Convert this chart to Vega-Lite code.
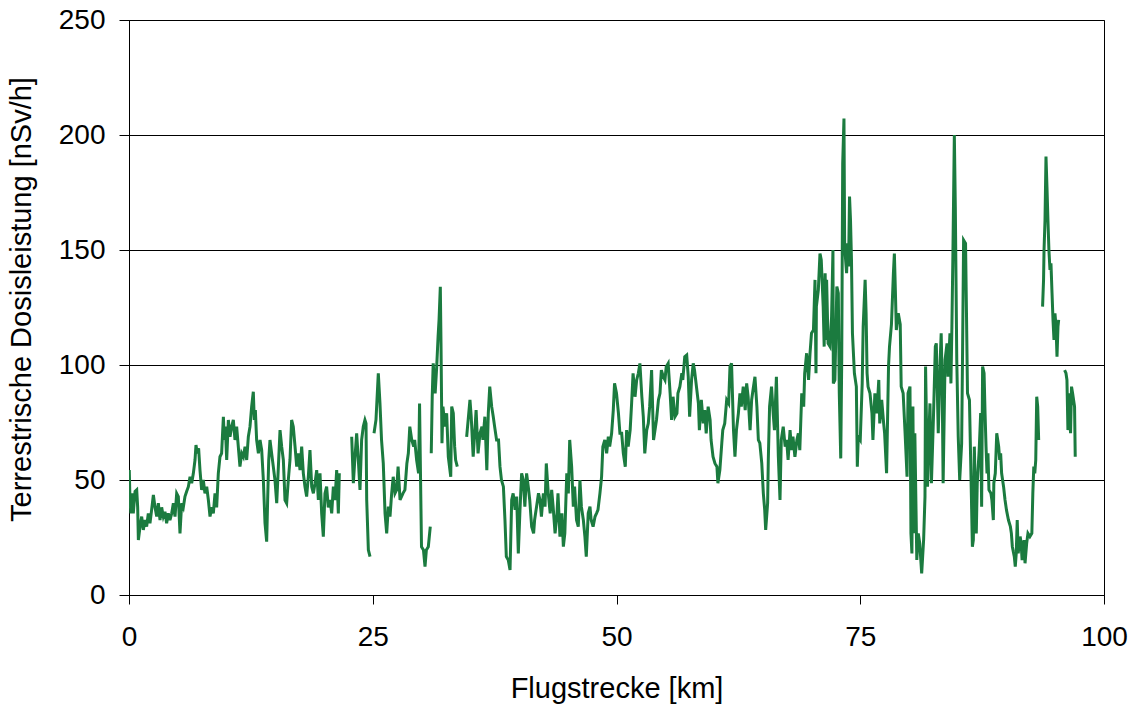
{
  "$schema": "https://vega.github.io/schema/vega-lite/v6.json",
  "width": 975,
  "height": 575,
  "autosize": {"type": "none"},
  "padding": {"left": 129, "top": 20, "right": 33, "bottom": 111},
  "background": "white",
  "config": {"view": {"stroke": "#000", "strokeWidth": 1}, "font": "Liberation Sans"},
  "data": {"values": [
    {"km":0.03,"dose":54.3},{"km":0.1,"dose":41.3},{"km":0.2,"dose":35.5},{"km":0.32,"dose":44.2},{"km":0.44,"dose":35.5},{"km":0.62,"dose":45},{"km":0.79,"dose":45.7},{"km":0.89,"dose":38.1},{"km":0.96,"dose":23.9},{"km":1.13,"dose":29.7},{"km":1.3,"dose":34.1},{"km":1.47,"dose":28.3},{"km":1.64,"dose":32.6},{"km":1.81,"dose":29.7},{"km":1.98,"dose":35.5},{"km":2.15,"dose":31.2},{"km":2.32,"dose":37},{"km":2.5,"dose":43.5},{"km":2.67,"dose":38.1},{"km":2.84,"dose":34.1},{"km":3.01,"dose":39.9},{"km":3.18,"dose":32.6},{"km":3.35,"dose":38.1},{"km":3.52,"dose":34.1},{"km":3.69,"dose":36.2},{"km":3.86,"dose":31.2},{"km":4.03,"dose":35.5},{"km":4.2,"dose":32.6},{"km":4.38,"dose":35.5},{"km":4.55,"dose":39.9},{"km":4.72,"dose":34.1},{"km":4.89,"dose":44.2},{"km":5.06,"dose":42.8},{"km":5.23,"dose":26.8},{"km":5.4,"dose":39.9},{"km":5.57,"dose":38.1},{"km":5.74,"dose":42.8},{"km":5.91,"dose":45},{"km":6.09,"dose":47.1},{"km":6.26,"dose":51.4},{"km":6.43,"dose":48.6},{"km":6.6,"dose":52.9},{"km":6.77,"dose":58.7},{"km":6.87,"dose":65.2},{"km":7.0,"dose":61.6},{"km":7.14,"dose":63.8},{"km":7.28,"dose":54.3},{"km":7.45,"dose":45.7},{"km":7.62,"dose":50},{"km":7.79,"dose":44.2},{"km":7.97,"dose":47.1},{"km":8.14,"dose":41.3},{"km":8.31,"dose":34.1},{"km":8.48,"dose":38.1},{"km":8.65,"dose":35.5},{"km":8.82,"dose":44.2},{"km":8.99,"dose":38.1},{"km":9.16,"dose":52.9},{"km":9.33,"dose":60.1},{"km":9.5,"dose":61.6},{"km":9.68,"dose":77.5},{"km":9.78,"dose":67.4},{"km":9.88,"dose":73.2},{"km":10.02,"dose":58.7},{"km":10.19,"dose":76.1},{"km":10.36,"dose":68.8},{"km":10.53,"dose":73.2},{"km":10.7,"dose":76.1},{"km":10.87,"dose":67.4},{"km":11.04,"dose":73.2},{"km":11.21,"dose":64.5},{"km":11.38,"dose":55.8},{"km":11.56,"dose":61.6},{"km":11.73,"dose":60.1},{"km":11.9,"dose":64.5},{"km":12.07,"dose":58.7},{"km":12.24,"dose":68.8},{"km":12.41,"dose":73.2},{"km":12.58,"dose":81.9},{"km":12.75,"dose":88.4},{"km":12.85,"dose":76.1},{"km":12.96,"dose":80.4},{"km":13.09,"dose":67.4},{"km":13.27,"dose":61.6},{"km":13.44,"dose":67.4},{"km":13.61,"dose":63},{"km":13.78,"dose":50},{"km":13.95,"dose":31.2},{"km":14.12,"dose":23.2},{"km":14.22,"dose":41.3},{"km":14.33,"dose":58.7},{"km":14.46,"dose":67.4},{"km":14.63,"dose":61.6},{"km":14.8,"dose":55.8},{"km":14.97,"dose":50},{"km":15.15,"dose":39.9},{"km":15.32,"dose":55.8},{"km":15.49,"dose":71.7},{"km":15.66,"dose":64.5},{"km":15.83,"dose":58.7},{"km":16.0,"dose":41.3},{"km":16.17,"dose":39.9},{"km":16.34,"dose":50},{"km":16.51,"dose":58.7},{"km":16.68,"dose":76.1},{"km":16.85,"dose":73.2},{"km":17.03,"dose":64.5},{"km":17.2,"dose":55.8},{"km":17.37,"dose":61.6},{"km":17.54,"dose":54.3},{"km":17.71,"dose":64.5},{"km":17.88,"dose":52.9},{"km":18.05,"dose":47.1},{"km":18.22,"dose":42.8},{"km":18.39,"dose":51.4},{"km":18.56,"dose":63},{"km":18.74,"dose":47.1},{"km":18.91,"dose":44.2},{"km":19.08,"dose":48.6},{"km":19.25,"dose":54.3},{"km":19.42,"dose":41.3},{"km":19.59,"dose":52.9},{"km":19.76,"dose":35.5},{"km":19.93,"dose":25.4},{"km":20.1,"dose":44.2},{"km":20.27,"dose":47.1},{"km":20.44,"dose":38.1},{"km":20.62,"dose":41.3},{"km":20.79,"dose":35.5},{"km":20.96,"dose":47.1},{"km":21.13,"dose":41.3},{"km":21.3,"dose":54.3},{"km":21.47,"dose":35.5},{"km":21.57,"dose":52.9},
    {"km":22.2,"dose":null},
    {"km":22.84,"dose":68.8},{"km":23.01,"dose":48.6},{"km":23.18,"dose":60.1},{"km":23.35,"dose":70.3},{"km":23.52,"dose":58.7},{"km":23.69,"dose":45.7},{"km":23.86,"dose":67.4},{"km":24.03,"dose":73.2},{"km":24.2,"dose":76.1},{"km":24.31,"dose":74.6},{"km":24.38,"dose":41.3},{"km":24.55,"dose":19.6},{"km":24.72,"dose":16.7},
    {"km":24.9,"dose":null},
    {"km":25.13,"dose":70.3},{"km":25.33,"dose":76.1},{"km":25.57,"dose":96.4},{"km":25.74,"dose":83.3},{"km":25.9,"dose":67.4},{"km":26.08,"dose":57.2},{"km":26.26,"dose":35.5},{"km":26.43,"dose":26.8},{"km":26.6,"dose":38.4},{"km":26.77,"dose":34.1},{"km":26.94,"dose":44.2},{"km":27.1,"dose":51.4},{"km":27.28,"dose":44.2},{"km":27.45,"dose":45.7},{"km":27.6,"dose":55.8},{"km":27.8,"dose":41.3},{"km":28.1,"dose":44.2},{"km":28.3,"dose":45.7},{"km":28.5,"dose":57.2},{"km":28.65,"dose":61.6},{"km":28.8,"dose":73.2},{"km":29.0,"dose":67.4},{"km":29.2,"dose":64.5},{"km":29.3,"dose":67.4},{"km":29.5,"dose":58.7},{"km":29.7,"dose":52.9},{"km":29.8,"dose":83.3},{"km":29.9,"dose":51.4},{"km":30.0,"dose":21},{"km":30.2,"dose":19.6},{"km":30.36,"dose":12.3},{"km":30.5,"dose":19.6},{"km":30.7,"dose":21},{"km":30.9,"dose":29.7},
    {"km":30.95,"dose":null},
    {"km":31.0,"dose":61.6},{"km":31.1,"dose":86.2},{"km":31.2,"dose":100.7},{"km":31.4,"dose":87.7},{"km":31.56,"dose":99.3},{"km":31.7,"dose":112.3},{"km":31.8,"dose":119.6},{"km":31.93,"dose":134},{"km":32.0,"dose":109.4},{"km":32.1,"dose":66},{"km":32.2,"dose":81.9},{"km":32.4,"dose":73.2},{"km":32.58,"dose":79},{"km":32.75,"dose":60.1},{"km":33.0,"dose":51.4},{"km":33.1,"dose":81.9},{"km":33.26,"dose":79},{"km":33.4,"dose":64.5},{"km":33.5,"dose":58.7},{"km":33.67,"dose":55.8},
    {"km":34.2,"dose":null},
    {"km":34.63,"dose":68.8},{"km":34.97,"dose":84.8},{"km":35.1,"dose":77.5},{"km":35.3,"dose":60.1},{"km":35.5,"dose":73.2},{"km":35.6,"dose":80.4},{"km":35.8,"dose":61.6},{"km":36.0,"dose":70.3},{"km":36.2,"dose":73.2},{"km":36.3,"dose":67.4},{"km":36.5,"dose":77.5},{"km":36.7,"dose":54.3},{"km":36.85,"dose":79},{"km":37.0,"dose":90.6},{"km":37.2,"dose":81.9},{"km":37.36,"dose":77.5},{"km":37.5,"dose":73.2},{"km":37.7,"dose":67.4},{"km":37.9,"dose":67.4},{"km":38.05,"dose":55.8},{"km":38.2,"dose":50},{"km":38.4,"dose":47.1},{"km":38.56,"dose":32.6},{"km":38.7,"dose":16.7},{"km":38.9,"dose":15.2},{"km":39.08,"dose":10.9},{"km":39.25,"dose":41.3},{"km":39.4,"dose":44.2},{"km":39.6,"dose":37},{"km":39.76,"dose":42.8},{"km":39.93,"dose":18.1},{"km":40.1,"dose":37},{"km":40.27,"dose":52.9},{"km":40.44,"dose":50},{"km":40.6,"dose":38.4},{"km":40.78,"dose":52.9},{"km":40.95,"dose":47.1},{"km":41.1,"dose":41.3},{"km":41.3,"dose":29.7},{"km":41.5,"dose":26.8},{"km":41.6,"dose":32.6},{"km":41.8,"dose":38.4},{"km":42.0,"dose":44.2},{"km":42.15,"dose":41.3},{"km":42.3,"dose":34.1},{"km":42.5,"dose":44.2},{"km":42.67,"dose":38.4},{"km":42.8,"dose":57.2},{"km":43.0,"dose":44.2},{"km":43.2,"dose":35.5},{"km":43.35,"dose":45.7},{"km":43.5,"dose":38.4},{"km":43.7,"dose":26.8},{"km":43.9,"dose":35.5},{"km":44.0,"dose":44.2},{"km":44.2,"dose":25.4},{"km":44.4,"dose":35.5},{"km":44.55,"dose":21},{"km":44.7,"dose":26.8},{"km":44.9,"dose":52.9},{"km":45.06,"dose":44.2},{"km":45.2,"dose":67.4},{"km":45.4,"dose":55.8},{"km":45.57,"dose":38.4},{"km":45.7,"dose":47.1},{"km":45.9,"dose":32.6},{"km":46.08,"dose":29.7},{"km":46.25,"dose":50},{"km":46.4,"dose":38.4},{"km":46.6,"dose":32.6},{"km":46.76,"dose":25.4},{"km":46.9,"dose":16.7},{"km":47.1,"dose":35.5},{"km":47.28,"dose":38.4},{"km":47.4,"dose":32.6},{"km":47.6,"dose":29.7},{"km":47.8,"dose":34.1},{"km":47.95,"dose":35.5},{"km":48.1,"dose":37},{"km":48.3,"dose":44.2},{"km":48.47,"dose":51.4},{"km":48.6,"dose":64.5},{"km":48.8,"dose":67.4},{"km":48.99,"dose":61.6},{"km":49.16,"dose":68.8},{"km":49.3,"dose":64.5},{"km":49.5,"dose":70.3},{"km":49.67,"dose":80.4},{"km":49.8,"dose":92},{"km":50.0,"dose":87.7},{"km":50.2,"dose":79},{"km":50.35,"dose":70.3},
    {"km":50.53,"dose":70.3},{"km":50.7,"dose":61.6},{"km":50.9,"dose":55.8},{"km":51.04,"dose":71.7},{"km":51.2,"dose":64.5},{"km":51.4,"dose":71.7},{"km":51.55,"dose":83.3},{"km":51.7,"dose":96.4},{"km":51.9,"dose":86.2},{"km":52.07,"dose":93.5},{"km":52.24,"dose":96.4},{"km":52.4,"dose":100.7},{"km":52.6,"dose":86.2},{"km":52.75,"dose":77.5},{"km":52.9,"dose":61.6},{"km":53.1,"dose":71.7},{"km":53.26,"dose":74.6},{"km":53.4,"dose":81.9},{"km":53.6,"dose":97.8},{"km":53.8,"dose":67.4},{"km":53.95,"dose":71.7},{"km":54.1,"dose":76.1},{"km":54.3,"dose":84.8},{"km":54.46,"dose":87.7},{"km":54.6,"dose":97.8},{"km":54.8,"dose":94.9},{"km":54.97,"dose":93.5},{"km":55.1,"dose":99.3},{"km":55.3,"dose":100.7},{"km":55.5,"dose":87.7},{"km":55.65,"dose":76.1},{"km":55.8,"dose":86.2},{"km":56.0,"dose":77.5},{"km":56.2,"dose":79},{"km":56.3,"dose":87.7},{"km":56.5,"dose":90.6},{"km":56.7,"dose":96.4},{"km":56.8,"dose":93.5},{"km":57.0,"dose":103.6},{"km":57.2,"dose":104.3},{"km":57.36,"dose":94.9},{"km":57.5,"dose":77.5},{"km":57.7,"dose":93.5},{"km":57.87,"dose":100.7},{"km":58.0,"dose":97.8},{"km":58.2,"dose":90.6},{"km":58.4,"dose":83.3},{"km":58.5,"dose":71.7},{"km":58.7,"dose":84.8},{"km":58.9,"dose":74.6},{"km":59.05,"dose":80.4},{"km":59.2,"dose":70.3},{"km":59.4,"dose":81.9},{"km":59.6,"dose":76.1},{"km":59.7,"dose":67.4},{"km":59.9,"dose":60.1},{"km":60.1,"dose":57.2},{"km":60.3,"dose":55.8},{"km":60.4,"dose":48.6},{"km":60.6,"dose":54.3},{"km":60.8,"dose":66},{"km":60.9,"dose":71.7},{"km":61.1,"dose":74.6},{"km":61.3,"dose":84.8},{"km":61.5,"dose":83.3},{"km":61.64,"dose":99.3},{"km":61.8,"dose":100.7},{"km":62.0,"dose":71.7},{"km":62.15,"dose":60.1},{"km":62.3,"dose":71.7},{"km":62.5,"dose":79},{"km":62.66,"dose":87.7},{"km":62.8,"dose":81.9},{"km":63.0,"dose":90.6},{"km":63.2,"dose":80.4},{"km":63.35,"dose":92},{"km":63.5,"dose":86.2},{"km":63.7,"dose":71.7},{"km":63.86,"dose":84.8},{"km":64.0,"dose":89.1},{"km":64.2,"dose":94.9},{"km":64.4,"dose":81.9},{"km":64.55,"dose":67.4},{"km":64.7,"dose":66},{"km":64.9,"dose":57.2},{"km":65.06,"dose":44.2},{"km":65.2,"dose":37},{"km":65.3,"dose":28.3},{"km":65.5,"dose":39.9},{"km":65.57,"dose":58.7},{"km":65.7,"dose":81.9},{"km":65.9,"dose":90.6},{"km":66.07,"dose":79},{"km":66.2,"dose":71.7},{"km":66.4,"dose":94.9},{"km":66.6,"dose":60.1},{"km":66.77,"dose":41.3},{"km":66.9,"dose":67.4},{"km":67.1,"dose":73.2},{"km":67.3,"dose":64.5},{"km":67.45,"dose":67.4},{"km":67.6,"dose":58.7},{"km":67.8,"dose":71.7},{"km":67.96,"dose":63},{"km":68.1,"dose":68.8},{"km":68.3,"dose":60.1},{"km":68.5,"dose":67.4},{"km":68.65,"dose":70.3},{"km":68.8,"dose":63},
    {"km":69.0,"dose":87.7},{"km":69.2,"dose":81.9},{"km":69.3,"dose":96.4},{"km":69.5,"dose":105.1},{"km":69.7,"dose":93.5},{"km":69.85,"dose":105.1},{"km":70.0,"dose":113.8},{"km":70.2,"dose":115.2},{"km":70.36,"dose":137},{"km":70.46,"dose":96.4},{"km":70.5,"dose":125.4},{"km":70.7,"dose":132.6},{"km":70.87,"dose":148.5},{"km":71.0,"dose":145.7},{"km":71.2,"dose":125.4},{"km":71.3,"dose":108},{"km":71.4,"dose":139.9},{"km":71.5,"dose":110.9},{"km":71.55,"dose":137},{"km":71.7,"dose":109.4},{"km":71.9,"dose":108},{"km":72.06,"dose":121},{"km":72.2,"dose":150},{"km":72.24,"dose":92},{"km":72.4,"dose":93.5},{"km":72.6,"dose":134.1},{"km":72.75,"dose":131.2},{"km":72.85,"dose":87.7},{"km":73.0,"dose":59.4},{"km":73.1,"dose":102.2},{"km":73.2,"dose":187.7},{"km":73.33,"dose":207.2},{"km":73.4,"dose":151.4},{"km":73.6,"dose":139.9},{"km":73.7,"dose":152.9},{"km":73.8,"dose":142.8},{"km":73.9,"dose":173.2},{"km":74.0,"dose":163},{"km":74.1,"dose":145.7},{"km":74.2,"dose":113.8},{"km":74.4,"dose":96.4},{"km":74.6,"dose":90.6},{"km":74.7,"dose":55.8},{"km":74.8,"dose":68.8},{"km":75.0,"dose":67.4},{"km":75.2,"dose":92},{"km":75.3,"dose":116.7},{"km":75.5,"dose":137},{"km":75.6,"dose":122.5},{"km":75.7,"dose":96.4},{"km":75.8,"dose":90.6},{"km":76.0,"dose":87.7},{"km":76.2,"dose":79},{"km":76.3,"dose":67.4},{"km":76.5,"dose":87.7},{"km":76.7,"dose":79},{"km":76.9,"dose":93.5},{"km":77.0,"dose":74.6},{"km":77.2,"dose":84.8},{"km":77.4,"dose":74.6},{"km":77.5,"dose":70.3},{"km":77.7,"dose":53},{"km":77.9,"dose":99.3},{"km":78.0,"dose":108},{"km":78.2,"dose":117.7},{"km":78.4,"dose":139.9},{"km":78.5,"dose":148.5},{"km":78.6,"dose":132.6},{"km":78.7,"dose":115.2},{"km":78.9,"dose":122.5},{"km":79.1,"dose":117.7},{"km":79.2,"dose":90.6},{"km":79.4,"dose":87.7},{"km":79.6,"dose":70.3},{"km":79.8,"dose":51.4},{"km":79.9,"dose":87.7},{"km":80.1,"dose":90.6},{"km":80.2,"dose":26.8},{"km":80.3,"dose":18.1},{"km":80.4,"dose":81.9},{"km":80.5,"dose":26.8},{"km":80.6,"dose":70.3},{"km":80.8,"dose":15.2},{"km":80.95,"dose":26.8},{"km":81.1,"dose":22.5},{"km":81.3,"dose":9.4},{"km":81.5,"dose":24},{"km":81.64,"dose":42.8},{"km":81.7,"dose":99.3},{"km":81.9,"dose":47.1},{"km":82.0,"dose":64.5},{"km":82.15,"dose":83.3},{"km":82.3,"dose":48.6},{"km":82.5,"dose":76.1},{"km":82.7,"dose":108},{"km":82.8,"dose":109.4},{"km":83.0,"dose":70.3},{"km":83.2,"dose":102.2},{"km":83.3,"dose":113.8},{"km":83.4,"dose":93.5},{"km":83.5,"dose":48.6},{"km":83.7,"dose":102.2},{"km":83.9,"dose":109.4},{"km":84.0,"dose":94.9},{"km":84.2,"dose":113.8},{"km":84.3,"dose":92},{"km":84.4,"dose":116.7},{"km":84.5,"dose":147.1},{"km":84.65,"dose":200},{"km":84.75,"dose":168.8},{"km":84.9,"dose":102.2},{"km":85.05,"dose":68.8},{"km":85.2,"dose":50},{"km":85.4,"dose":65.9},{"km":85.5,"dose":108},{"km":85.6,"dose":154.3},{"km":85.8,"dose":152.9},{"km":85.9,"dose":121},{"km":86.0,"dose":87.7},{"km":86.2,"dose":84.8},{"km":86.4,"dose":42.8},{"km":86.5,"dose":21},{"km":86.6,"dose":24},{"km":86.7,"dose":64.5},{"km":86.9,"dose":26.8},{"km":87.0,"dose":48.6},{"km":87.2,"dose":63},
    {"km":87.35,"dose":79.1},{"km":87.45,"dose":38.4},{"km":87.55,"dose":99.3},{"km":87.7,"dose":96.4},{"km":87.8,"dose":79.1},{"km":87.9,"dose":64.6},{"km":88.0,"dose":52.9},{"km":88.1,"dose":61.6},{"km":88.2,"dose":45.7},{"km":88.4,"dose":44.2},{"km":88.5,"dose":41.3},{"km":88.65,"dose":32.6},{"km":88.7,"dose":48.6},{"km":88.85,"dose":52.9},{"km":89.0,"dose":70.3},{"km":89.2,"dose":64.5},{"km":89.3,"dose":58.7},{"km":89.4,"dose":61.6},{"km":89.5,"dose":52.9},{"km":89.7,"dose":47.1},{"km":89.85,"dose":41.3},{"km":90.0,"dose":36.9},{"km":90.2,"dose":32.6},{"km":90.4,"dose":29.7},{"km":90.5,"dose":26.8},{"km":90.6,"dose":21},{"km":90.8,"dose":16.7},{"km":90.9,"dose":12.3},{"km":91.0,"dose":18.1},{"km":91.1,"dose":32.6},{"km":91.2,"dose":18.1},{"km":91.4,"dose":25.4},{"km":91.5,"dose":22.5},{"km":91.6,"dose":15.2},{"km":91.8,"dose":23.9},{"km":91.9,"dose":13.8},{"km":92.07,"dose":22.5},{"km":92.2,"dose":26.8},{"km":92.4,"dose":25.4},{"km":92.6,"dose":26.8},{"km":92.7,"dose":44.2},{"km":92.8,"dose":55.8},{"km":92.9,"dose":52.9},{"km":93.0,"dose":58.7},{"km":93.1,"dose":86.2},{"km":93.2,"dose":81.9},{"km":93.3,"dose":67.4},
    {"km":93.5,"dose":null},
    {"km":93.7,"dose":125.4},{"km":93.8,"dose":137},{"km":93.85,"dose":150},{"km":93.95,"dose":163},{"km":94.05,"dose":190.6},{"km":94.15,"dose":177.5},{"km":94.25,"dose":163},{"km":94.35,"dose":150},{"km":94.46,"dose":141.3},{"km":94.56,"dose":144.2},{"km":94.67,"dose":131.2},{"km":94.77,"dose":119.6},{"km":94.87,"dose":110.9},{"km":94.97,"dose":122.5},{"km":95.08,"dose":116.7},{"km":95.18,"dose":103.6},{"km":95.28,"dose":116.7},{"km":95.35,"dose":119.6},
    {"km":95.6,"dose":null},
    {"km":95.96,"dose":97.8},{"km":96.1,"dose":96.4},{"km":96.2,"dose":93.5},{"km":96.3,"dose":71.7},{"km":96.4,"dose":87.7},{"km":96.57,"dose":70.3},{"km":96.67,"dose":90.6},{"km":96.78,"dose":87.7},{"km":96.88,"dose":84.8},{"km":96.98,"dose":81.9},{"km":97.05,"dose":60.1}
  ]},
  "mark": {"type": "line", "color": "#1b7b3f", "strokeWidth": 3, "strokeJoin": "miter", "invalid": "break-paths-show-domains", "clip": true},
  "encoding": {
    "x": {
      "field": "km", "type": "quantitative",
      "scale": {"domain": [0, 100], "nice": false, "zero": false},
      "axis": {
        "title": "Flugstrecke [km]", "values": [0, 25, 50, 75, 100], "grid": false,
        "domainColor": "#000", "tickColor": "#000", "tickSize": 9,
        "labelFontSize": 28, "labelColor": "#000", "labelBaseline": "alphabetic", "labelPadding": 41, "labelFlush": false,
        "titleFontSize": 29, "titleFontWeight": "normal", "titleColor": "#000", "titleBaseline": "alphabetic", "titleY": 102
      }
    },
    "y": {
      "field": "dose", "type": "quantitative",
      "scale": {"domain": [0, 250], "nice": false},
      "axis": {
        "title": "Terrestrische Dosisleistung [nSv/h]", "values": [0, 50, 100, 150, 200, 250],
        "grid": true, "gridColor": "#000", "gridOpacity": 1, "gridWidth": 1,
        "domainColor": "#000", "tickColor": "#000", "tickSize": 10,
        "labelFontSize": 28, "labelColor": "#000", "labelPadding": 14,
        "titleFontSize": 29, "titleFontWeight": "normal", "titleColor": "#000",
        "titleAngle": -90, "titleBaseline": "alphabetic", "titleX": -99, "titleY": 279
      }
    }
  }
}
